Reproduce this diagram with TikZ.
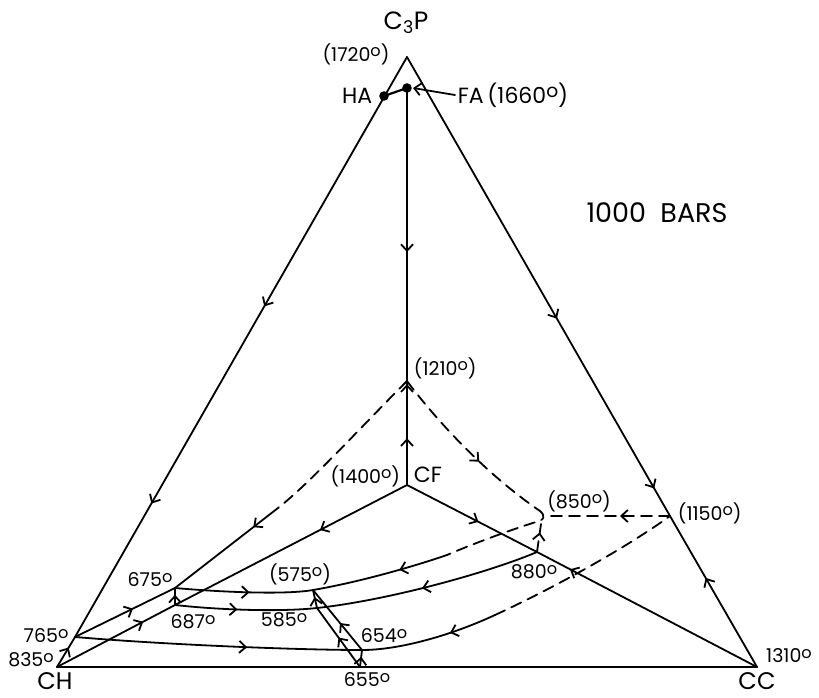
\documentclass[tikz,border=0pt]{standalone}
\usepackage{fontspec}
\setmainfont{Poppins}
\usetikzlibrary{arrows.meta,decorations.markings}
\newcommand\dg{\raisebox{0.25em}{\scalebox{0.85}{o}}}
\begin{document}
\begin{tikzpicture}[x=1pt,y=-1pt, line width=1.8pt, line cap=round, line join=round,
  >={Straight Barb[length=6.5pt,width=12pt]},
  arr/.style={postaction={decorate,decoration={markings,mark=at position #1 with {\arrow{>}}}}},
  dsh/.style={dash pattern=on 11pt off 7pt},
  lbl/.style={font=\fontsize{19}{21}\selectfont, inner sep=0pt},
  mid/.style={font=\fontsize{22}{24}\selectfont, inner sep=0pt},
  big/.style={font=\fontsize{25}{27}\selectfont, inner sep=0pt}]
\useasboundingbox (0,0) rectangle (819,698);
% points
\coordinate (P) at (407,57);
\coordinate (H) at (57,667);
\coordinate (C) at (757,667);
\coordinate (HA) at (384,96);
\coordinate (FA) at (407,88);
\coordinate (FAt) at (413,88);
\coordinate (T1210) at (407,381);
\coordinate (CF) at (407,485);
\coordinate (T1150) at (670,516);
\coordinate (T850) at (540,511);
\coordinate (T880) at (537,552);
\coordinate (T575) at (313,590);
\coordinate (T585) at (317,608);
\coordinate (T654) at (362,650);
\coordinate (T655) at (360,667);
\coordinate (T675) at (175,588);
\coordinate (T687) at (175,605);
\coordinate (T765) at (75,637);
\coordinate (J) at (278,508);
\coordinate (K) at (447,555);
\coordinate (L) at (495,615);
\coordinate (M) at (536,522);
\coordinate (N) at (548,516);
\coordinate (Q) at (541,524);
% triangle edges
\draw[arr=0.43, arr=0.77] (P) -- (T765);
\draw[arr=0.65] (H) -- (T765);
\draw[arr=0.57, arr=0.94] (P) -- (T1150);
\draw[arr=0.59] (C) -- (T1150);
\draw (H) -- (T655) -- (C);
% vertical line
\draw[arr=0.56] (FA) -- (T1210);
\draw[arr=0.45, arr=0.97] (CF) -- (T1210);
% joins
\draw[arr=0.375] (CF) -- (T687);
\draw[arr=0.73] (H) -- (T687);
\draw[arr=0.55] (CF) -- (T880);
\draw[arr=0.85] (C) -- (T880);
% boundary 765 - 675 - 1210
\draw[arr=0.58] (T765) -- (T675);
\draw[arr=0.24] (J) -- (T675);
\draw[dsh] (T1210) .. controls (362,426) and (310,483) .. (J);
% 1210 -> 850 -> 575
\draw[dsh, arr=0.58] (T1210) .. controls (430,412) and (480,470) .. (T850);
\draw[dsh] (T850) .. controls (546,516) and (544,521) .. (M) .. controls (510,530) and (470,545) .. (K);
\draw[arr=0.36] (K) .. controls (415,566) and (360,582) .. (T575);
\draw[arr=0.54] (T675) .. controls (220,592) and (285,595) .. (T575);
% 880 -> 585 <- 687
\draw[arr=0.53] (T880) .. controls (490,572) and (390,600) .. (T585);
\draw[arr=0.44] (T687) .. controls (220,610) and (280,612) .. (T585);
% 765 -> 654 <- 1150
\draw[arr=0.6] (T765) .. controls (170,645) and (300,650) .. (T654);
\draw[arr=0.35] (L) .. controls (452,635) and (400,650) .. (T654);
\draw[dsh] (L) .. controls (560,585) and (630,545) .. (T1150);
% dashed to 850
\draw[dsh, arr=0.41] (T1150) -- (N);
\draw[dsh, arr=0.7] (T880) -- (Q);
% short connectors
\draw[arr=0.6] (T655) -- (T654);
\draw[arr=0.5] (T655) -- (T585);
\draw[arr=0.6] (T585) -- (T575);
\draw[arr=0.45] (T654) -- (T575);
\draw[arr=0.6] (T687) -- (T675);
% HA, FA
\draw[line width=2.2pt] (HA) -- (FA);
\fill (HA) circle (4.8pt);
\fill (FA) circle (4.8pt);
% labels
\node[big] (lC3P) at (406,23) {C\textsubscript{3}P};
\node[lbl] (l1720) at (356,54) {(1720\dg)};
\node[mid, anchor=east] (lHA) at (373,96) {HA};
\node[mid, anchor=west] (lFA) at (457,95) {FA\,(1660\dg)};
\draw[->] ([xshift=-2pt]lFA.west) -- (FAt);
\node[font=\fontsize{27}{29}\selectfont, inner sep=0pt] (lbars) at (657,213) {1000\ \ BARS};
\node[lbl, anchor=west] (l1210) at (413,368) {(1210\dg)};
\node[lbl, anchor=east] (l1400) at (401,476) {(1400\dg)};
\node[mid, anchor=west] (lCF) at (413,475) {CF};
\node[lbl] (l850) at (579,501) {(850\dg)};
\node[lbl, anchor=west] (l1150) at (677,513) {(1150\dg)};
\node[lbl] (l880) at (534,572) {880\dg};
\node[lbl] (l575) at (300,574) {(575\dg)};
\node[lbl] (l585) at (284,620) {585\dg};
\node[lbl] (l654) at (384,636) {654\dg};
\node[lbl] (l655) at (367,680) {655\dg};
\node[lbl] (l675) at (150,580) {675\dg};
\node[lbl] (l687) at (193,622) {687\dg};
\node[lbl] (l765) at (46,636) {765\dg};
\node[lbl] (l835) at (31,660) {835\dg};
\node[font=\fontsize{24}{26}\selectfont, inner sep=0pt] (lCH) at (55,681) {CH};
\node[lbl] (l1310) at (789,656) {1310\dg};
\node[font=\fontsize{24}{26}\selectfont, inner sep=0pt] (lCC) at (757,681) {CC};
\end{tikzpicture}
\end{document}
